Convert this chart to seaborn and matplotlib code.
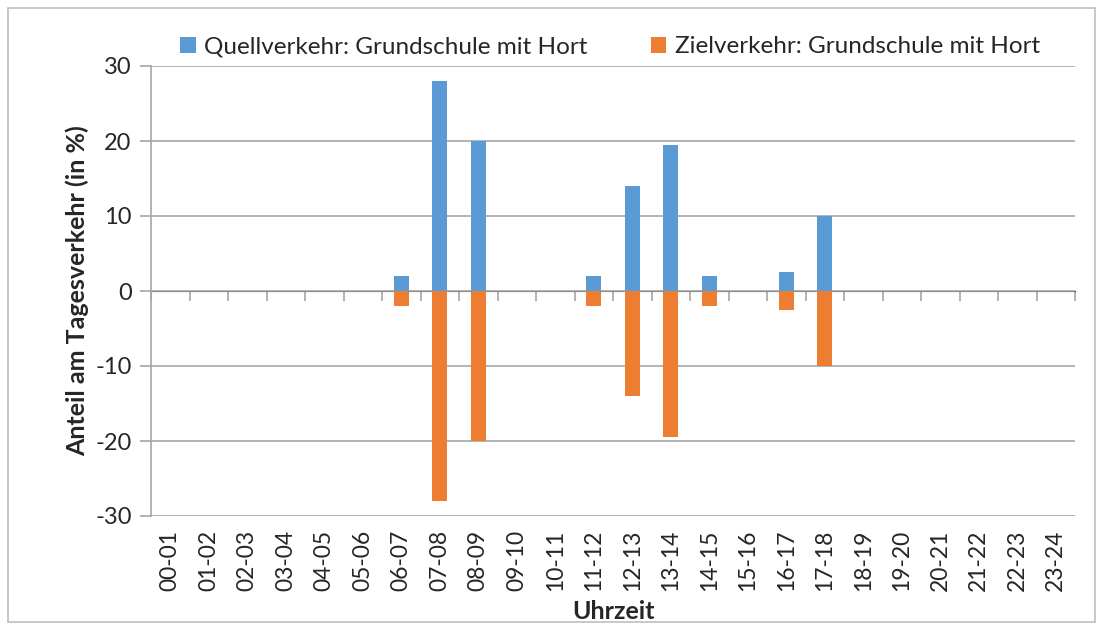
import numpy as np
import pandas as pd
import matplotlib
matplotlib.use("Agg")
import matplotlib.pyplot as plt
import seaborn as sns
from matplotlib.patches import Rectangle, Patch

# Data
hours = [f"{h:02d}-{h + 1:02d}" for h in range(24)]
quellverkehr = [0, 0, 0, 0, 0, 0, 2, 28, 20, 0, 0, 2,
                14, 19.5, 2, 0, 2.5, 10, 0, 0, 0, 0, 0, 0]
zielverkehr = [0, 0, 0, 0, 0, 0, -2, -28, -20, 0, 0, -2,
               -14, -19.5, -2, 0, -2.5, -10, 0, 0, 0, 0, 0, 0]
series_names = ["Quellverkehr: Grundschule mit Hort",
                "Zielverkehr: Grundschule mit Hort"]
y_ticks = [-30, -20, -10, 0, 10, 20, 30]

df = pd.DataFrame({"Uhrzeit": hours, "quell": quellverkehr, "ziel": zielverkehr})

blue = "#5B9BD5"
orange = "#ED7D31"
grid_col = "#A6A6A6"

sns.set_style("white")
plt.rcParams["font.family"] = ["Lato", "DejaVu Sans"]

fig = plt.figure(figsize=(11.03, 6.25), dpi=100)
ax = fig.add_axes([151 / 1103, 1 - 516 / 625, (1075 - 151) / 1103, (516 - 66) / 625])

sns.barplot(data=df, x="Uhrzeit", y="quell", color=blue, width=0.4,
            saturation=1, linewidth=0, ax=ax, zorder=3)
sns.barplot(data=df, x="Uhrzeit", y="ziel", color=orange, width=0.4,
            saturation=1, linewidth=0, ax=ax, zorder=3)

ax.set_xlim(-0.5, len(hours) - 0.5)
ax.set_ylim(-30, 30)
ax.set_yticks(y_ticks)
ax.set_yticklabels([str(t) for t in y_ticks], fontsize=17)
ax.yaxis.grid(True, color=grid_col, linewidth=1.2, zorder=0)
ax.set_axisbelow(True)

for side in ["top", "right", "bottom"]:
    ax.spines[side].set_visible(False)
ax.spines["left"].set_color(grid_col)
ax.spines["left"].set_linewidth(1.2)
ax.tick_params(axis="y", left=True, length=8, width=1.2, color=grid_col, pad=6)

ax.set_xticks(range(len(hours)))
ax.set_xticklabels(hours, rotation=90, fontsize=16.5)
ax.tick_params(axis="x", length=0, pad=10)

# boundary tick marks hanging below the zero line
sec = ax.secondary_xaxis(0.5)
sec.set_xticks(np.arange(len(hours) + 1) - 0.5)
sec.set_xticklabels([])
sec.spines["bottom"].set_visible(False)
sec.tick_params(axis="x", direction="in", length=7, width=1.2, color=grid_col)

ax.set_xlabel("Uhrzeit", fontsize=18, fontweight="bold", labelpad=6)
ax.set_ylabel("Anteil am Tagesverkehr (in %)", fontsize=18, fontweight="bold", labelpad=4)

handles = [Patch(facecolor=blue, edgecolor="none"), Patch(facecolor=orange, edgecolor="none")]
fig.legend(handles, series_names, loc="center", bbox_to_anchor=(0.553, 0.925),
           ncol=2, frameon=False, fontsize=17.5, handlelength=0.65, handleheight=0.65,
           handletextpad=0.35, columnspacing=2.6)

# outer chart border
fig.patches.append(Rectangle((8 / 1103, 3 / 625), 1087 / 1103, 614 / 625,
                             transform=fig.transFigure, fill=False,
                             edgecolor="#BFBFBF", linewidth=1.2))

fig.savefig("out.png", dpi=100)
